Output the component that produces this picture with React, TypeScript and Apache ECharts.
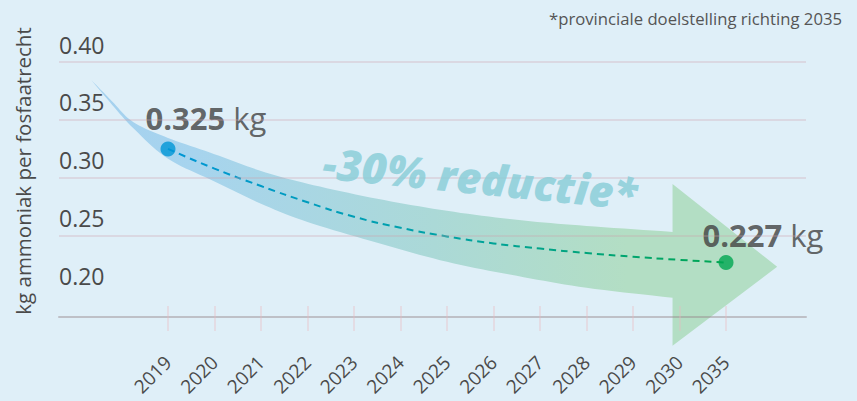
import React, { useEffect, useRef } from "react";
import * as echarts from "echarts";

// ---- data ----
const years = ["2019", "2020", "2021", "2022", "2023", "2024", "2025", "2026", "2027", "2028", "2029", "2030", "2035"];
const trendValues = [0.325, 0.308, 0.293, 0.279, 0.2665, 0.257, 0.2495, 0.2435, 0.239, 0.2352, 0.232, 0.2293, 0.227];
const keyIndex = [0, 12];
const keyValues = [0.325, 0.227];
const keyColors = ["#0096d6", "#00a651"];
const yTicks = [0.2, 0.25, 0.3, 0.35, 0.4];
const gridValues = [0.25, 0.3, 0.35, 0.4];

// decorative arrow band (x in year-index units, y in kg)
const bandX = [-1.65, -1.2, -0.75, 0, 1, 2, 3, 4.5, 6, 7.5, 9, 10.85];
const bandUpper = [0.3845, 0.366, 0.3483, 0.3345, 0.3205, 0.306, 0.295, 0.282, 0.2716, 0.2638, 0.2586, 0.2534];
const bandLower = [0.3845, 0.363, 0.343, 0.3165, 0.297, 0.2777, 0.262, 0.244, 0.2276, 0.2155, 0.2052, 0.1966];
const headX = [10.85, 13.1, 10.85];
const headY = [0.2948, 0.2233, 0.1552];

const FONT = '"Open Sans", "Noto Sans", sans-serif';

function spline(pts: number[][], seg = 10): number[][] {
  const out: number[][] = [];
  for (let i = 0; i < pts.length - 1; i++) {
    const p0 = pts[Math.max(i - 1, 0)];
    const p1 = pts[i];
    const p2 = pts[i + 1];
    const p3 = pts[Math.min(i + 2, pts.length - 1)];
    for (let s = 0; s < seg; s++) {
      const t = s / seg;
      const t2 = t * t;
      const t3 = t2 * t;
      const f = (k: number) =>
        0.5 *
        (2 * p1[k] +
          (-p0[k] + p2[k]) * t +
          (2 * p0[k] - 5 * p1[k] + 4 * p2[k] - p3[k]) * t2 +
          (-p0[k] + 3 * p1[k] - 3 * p2[k] + p3[k]) * t3);
      out.push([f(0), f(1)]);
    }
  }
  out.push(pts[pts.length - 1]);
  return out;
}

export default function App() {
  const ref = useRef<HTMLDivElement>(null);
  useEffect(() => {
    document.body.style.margin = "0";
    const chart = echarts.init(ref.current!, null, { renderer: "svg" });
    const idx = years.map((_, i) => i);
    const xMin = -2.344;
    const xMax = 13.72;
    const option: any = {
      animation: false,
      backgroundColor: "#dfeff8",
      textStyle: { fontFamily: FONT },
      grid: { left: 59, right: 51, top: 62, bottom: 84, containLabel: false, outerBoundsMode: "none" },
      xAxis: [
        {
          type: "value",
          min: xMin,
          max: xMax,
          z: 5,
          splitLine: { show: false },
          axisLine: { show: true, lineStyle: { color: "rgba(150,135,140,0.45)", width: 2 } },
          axisTick: {
            show: true,
            customValues: idx,
            length: 14,
            lineStyle: { color: "rgba(235,185,190,0.45)", width: 1.5 },
          },
          axisLabel: {
            customValues: idx,
            formatter: (v: number) => years[Math.round(v)],
            rotate: 45,
            margin: 42,
            fontSize: 19,
            lineHeight: 19,
            color: "#4a4a4a",
            fontFamily: FONT,
          },
        },
        {
          type: "value",
          min: xMin,
          max: xMax,
          position: "bottom",
          z: 5,
          splitLine: { show: false },
          axisLine: { show: false },
          axisLabel: { show: false },
          axisTick: {
            show: true,
            inside: true,
            customValues: idx,
            length: 11,
            lineStyle: { color: "rgba(235,185,190,0.45)", width: 1.5 },
          },
        },
      ],
      yAxis: {
        type: "value",
        min: 0.18,
        max: 0.4,
        splitLine: { show: false },
        axisLine: { show: false },
        axisTick: { show: false },
        axisLabel: {
          customValues: yTicks,
          inside: true,
          margin: 0,
          verticalAlign: "bottom",
          padding: [0, 0, 6, 0],
          fontSize: 23,
          color: "#4a4a4a",
          fontFamily: FONT,
          formatter: (v: number) => v.toFixed(2),
        },
      },
      series: [
        {
          type: "custom",
          z: 1,
          silent: true,
          clip: false,
          data: [[0, 0.3]],
          renderItem: (_p: any, api: any) => {
            const up = spline(bandX.map((x, i) => api.coord([x, bandUpper[i]])));
            const lo = spline(bandX.map((x, i) => api.coord([x, bandLower[i]])));
            const head = headX.map((x, i) => api.coord([x, headY[i]]));
            const points = [...up, ...head, ...lo.reverse()];
            return {
              type: "polygon",
              shape: { points },
              style: {
                fill: new echarts.graphic.LinearGradient(0, 0, 1, 0, [
                  { offset: 0, color: "#a5d1ef" },
                  { offset: 0.15, color: "#a7d4ee" },
                  { offset: 0.5, color: "#abd9d7" },
                  { offset: 0.78, color: "#b3dec4" },
                  { offset: 1, color: "#b3dec4" },
                ]),
              },
            };
          },
        },
        {
          type: "line",
          z: 3,
          smooth: true,
          showSymbol: false,
          silent: true,
          data: trendValues.map((v, i) => [i, v]),
          lineStyle: {
            width: 2,
            type: [7, 5],
            color: new echarts.graphic.LinearGradient(0, 0, 1, 0, [
              { offset: 0, color: "#0096d6" },
              { offset: 0.5, color: "#00a2a4" },
              { offset: 1, color: "#00a651" },
            ]),
          },
          markLine: {
            silent: true,
            symbol: "none",
            label: { show: false },
            lineStyle: { type: "solid", color: "rgba(205,160,168,0.38)", width: 1.5 },
            data: gridValues.map((v) => ({ yAxis: v })),
          },
        },
        {
          type: "scatter",
          z: 4,
          symbolSize: 15,
          data: keyValues.map((v, i) => ({
            value: [keyIndex[i], v],
            itemStyle: { color: keyColors[i] },
            label: { position: i === 0 ? [-15, -23] : [-16, -20] },
          })),
          label: {
            show: true,
            align: "left",
            verticalAlign: "middle",
            formatter: (p: any) => `{b|${p.value[1].toFixed(3)}}{r| kg}`,
            rich: {
              b: { fontSize: 31, fontWeight: "bold", color: "#404040", fontFamily: FONT },
              r: { fontSize: 31, color: "#404040", fontFamily: FONT },
            },
          },
        },
      ],
      graphic: [
        {
          type: "text",
          x: 23,
          y: 171,
          rotation: Math.PI / 2,
          style: {
            text: "kg ammoniak per fosfaatrecht",
            fontSize: 20.5,
            fontFamily: FONT,
            fill: "#4a4a4a",
            textAlign: "center",
            textVerticalAlign: "middle",
          },
        },
        {
          type: "text",
          right: 15,
          top: 10,
          style: {
            text: "*provinciale doelstelling richting 2035",
            fontSize: 16.7,
            fontFamily: FONT,
            fill: "#555555",
          },
        },
        {
          type: "text",
          x: 480,
          y: 178,
          rotation: -0.1,
          z: 10,
          style: {
            text: "-30% reductie*",
            fontSize: 43,
            fontWeight: 800,
            fontStyle: "italic",
            fontFamily: FONT,
            fill: "rgba(140,206,216,0.85)",
            textAlign: "center",
            textVerticalAlign: "middle",
          },
        },
      ],
    };
    chart.setOption(option);
    return () => chart.dispose();
  }, []);
  return <div ref={ref} style={{ width: 857, height: 401 }} />;
}
